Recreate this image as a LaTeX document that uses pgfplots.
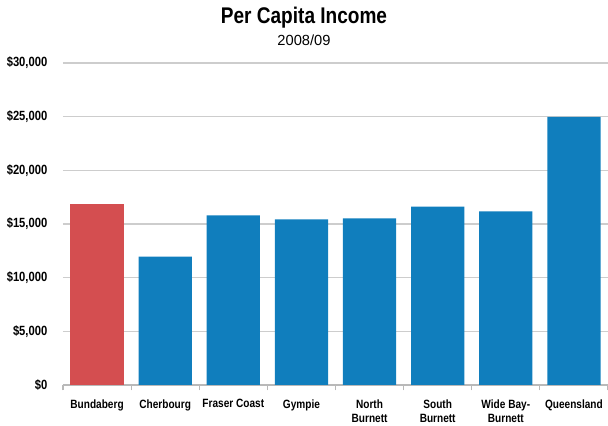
\documentclass[border=0pt]{standalone}
\usepackage{fontspec}
\setmainfont{Liberation Sans}[FakeStretch=0.84]
\newfontfamily\plainfont{Liberation Sans}
\usepackage{pgfplots}
\pgfplotsset{compat=1.18}
\usetikzlibrary{calc}
\definecolor{barred}{RGB}{212,78,80}
\definecolor{barblue}{RGB}{16,126,189}
\definecolor{gridgray}{RGB}{205,205,205}
\definecolor{axisgray}{RGB}{185,185,185}
\begin{document}
\begin{tikzpicture}
\begin{axis}[
  scale only axis,
  width=408.75pt, height=241.5pt,
  xmin=-0.5, xmax=7.5,
  ymin=0, ymax=30000,
  scaled y ticks=false,
  axis line style={draw=none},
  ytick={0,5000,10000,15000,20000,25000,30000},
  yticklabels={{\$0},{\$5,000},{\$10,000},{\$15,000},{\$20,000},{\$25,000},{\$30,000}},
  ymajorgrids,
  grid style={gridgray, line width=0.9pt},
  major y tick style={draw=none},
  yticklabel style={font=\fontsize{10}{12}\selectfont\bfseries, xshift=-4pt},
  xtick={0,...,7},
  xticklabels={Bundaberg, Cherbourg, Fraser Coast, Gympie, {North\\Burnett}, {South\\Burnett}, {Wide Bay-\\Burnett}, Queensland},
  xticklabel style={font=\fontsize{9}{10.8}\selectfont\bfseries, align=center, yshift=-3pt},
  major x tick style={draw=none},
  minor xtick={-0.5,0.5,...,7.5},
  minor x tick style={axisgray, line width=0.8pt},
  minor tick length=4pt,
  xtick pos=bottom,
  tick align=outside,
  clip=false,
]
\draw[axisgray, line width=0.9pt] (axis cs:-0.5,0) -- (axis cs:7.5,0);
\addplot[ybar, bar shift=0pt, bar width=0.78, fill=barred, draw=none] coordinates {(0,16870)};
\addplot[ybar, bar shift=0pt, bar width=0.78, fill=barblue, draw=none] coordinates {
(1,11950) (2,15800) (3,15440) (4,15530) (5,16620) (6,16180) (7,24980)};
\end{axis}
\node[font=\fontsize{17}{20}\selectfont\bfseries] at ($(current axis.north west)+(180.75pt,33.75pt)$) {Per Capita Income};
\node[font=\plainfont\fontsize{11}{13}\selectfont] at ($(current axis.north west)+(180.75pt,17.25pt)$) {2008/09};
\pgfresetboundingbox
\path[use as bounding box] ($(current axis.south west)+(-47.25pt,-30.75pt)$) rectangle ($(current axis.north east)+(0pt,47.25pt)$);
\end{tikzpicture}
\end{document}
